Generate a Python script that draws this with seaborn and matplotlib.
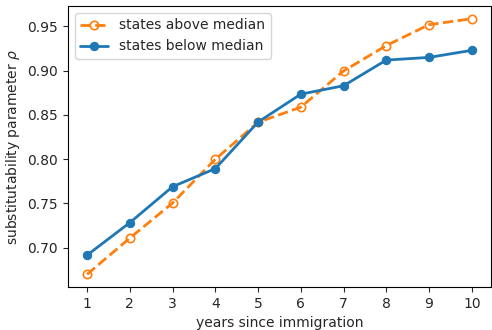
import matplotlib
matplotlib.use("Agg")
import matplotlib.pyplot as plt
import seaborn as sns
import pandas as pd

years = [1, 2, 3, 4, 5, 6, 7, 8, 9, 10]
rho_above = [0.670, 0.711, 0.7506, 0.800, 0.8417, 0.8588, 0.8997, 0.9284, 0.952, 0.9587]
rho_below = [0.6917, 0.7284, 0.769, 0.7894, 0.842, 0.8735, 0.883, 0.912, 0.915, 0.923]

label_above = "states above median"
label_below = "states below median"

df_above = pd.DataFrame({"years": years, "rho": rho_above})
df_below = pd.DataFrame({"years": years, "rho": rho_below})

sns.set_style("ticks")
plt.rcParams["font.family"] = ["DejaVu Sans"]

fig, ax = plt.subplots(figsize=(4.92, 3.3), dpi=100)
fig.subplots_adjust(left=0.138, right=0.998, top=0.982, bottom=0.130)

sns.lineplot(data=df_above, x="years", y="rho", ax=ax, color="#ff7f0e",
             linestyle="--", linewidth=2, marker="o", markersize=6,
             markerfacecolor="none", markeredgecolor="#ff7f0e",
             markeredgewidth=1.2, label=label_above)
sns.lineplot(data=df_below, x="years", y="rho", ax=ax, color="#1f77b4",
             linestyle="-", linewidth=2, marker="o", markersize=6,
             markeredgecolor="#1f77b4", label=label_below)

ax.set_xticks(years)
ax.set_xlabel("years since immigration")
ax.set_ylabel(r"substitutability parameter $\rho$")
ax.legend(loc="upper left", fontsize=10)
for s in ax.spines.values():
    s.set_visible(True)
    s.set_color("black")
    s.set_linewidth(0.8)

fig.savefig("out.png", dpi=100)
